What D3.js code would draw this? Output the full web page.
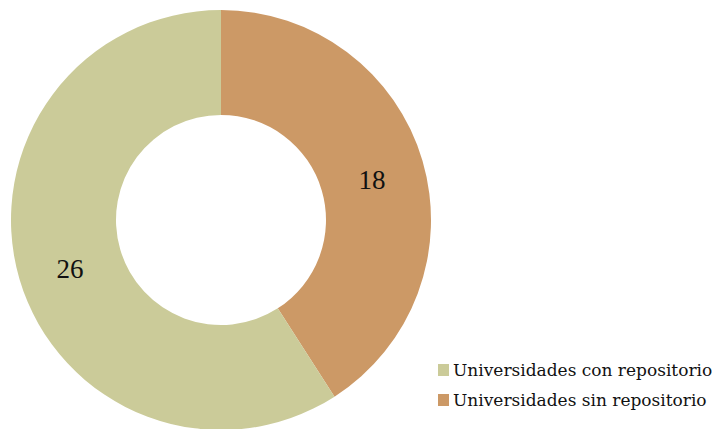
<!DOCTYPE html>
<html>
<head>
<meta charset="utf-8">
<script src="https://cdn.jsdelivr.net/npm/d3@7"></script>
<style>
  body { margin: 0; background: #fff; }
  svg { display: block; }
</style>
</head>
<body>
<div id="chart"></div>
<script>
// data
const categories = [ 'Universidades sin repositorio', 'Universidades con repositorio' ];
const values = [ 18, 26 ];
const colors = [ '#cc9966', '#cbcb99' ];
const legendOrder = [ 'Universidades con repositorio', 'Universidades sin repositorio' ];

const width = 715, height = 429;
const cx = 221, cy = 220;
const outerR = 210, innerR = 105;

const svg = d3.select( '#chart' )
  .append( 'svg' )
  .attr( 'width', width )
  .attr( 'height', height );

const color = d3.scaleOrdinal().domain( categories ).range( colors );

const pie = d3.pie().sort( null ).value( ( d, i ) => values[ i ] );
const arcs = pie( categories );

const arc = d3.arc().innerRadius( innerR ).outerRadius( outerR );

const g = svg.append( 'g' ).attr( 'transform', `translate(${cx},${cy})` );

g.selectAll( 'path' )
  .data( arcs )
  .enter()
  .append( 'path' )
  .attr( 'd', arc )
  .attr( 'fill', d => color( d.data ) );

// value labels at the middle of each ring slice
g.selectAll( 'text' )
  .data( arcs )
  .enter()
  .append( 'text' )
  .attr( 'transform', d => `translate(${arc.centroid( d )})` )
  .attr( 'text-anchor', 'middle' )
  .attr( 'dy', '0.5em' )
  .style( 'font-family', '"Liberation Serif", serif' )
  .style( 'font-size', '27px' )
  .style( 'fill', '#111' )
  .text( d => d.value );

// legend
const legend = svg.append( 'g' ).attr( 'transform', 'translate(437, 364)' );

const rows = legend.selectAll( 'g' )
  .data( legendOrder )
  .enter()
  .append( 'g' )
  .attr( 'transform', ( d, i ) => `translate(0, ${i * 30})` );

rows.append( 'rect' )
  .attr( 'x', 1 )
  .attr( 'width', 11 )
  .attr( 'height', 12 )
  .attr( 'fill', d => color( d ) );

rows.append( 'text' )
  .attr( 'x', 16 )
  .attr( 'y', 12 )
  .style( 'font-family', '"DejaVu Serif", serif' )
  .style( 'font-size', '17px' )
  .style( 'fill', '#111' )
  .text( d => d );
</script>
</body>
</html>
